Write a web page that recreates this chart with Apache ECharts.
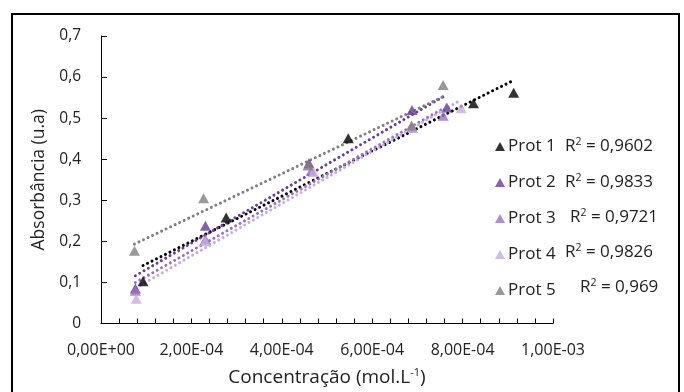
<!DOCTYPE html>
<html><head><meta charset="utf-8">
<script src="https://cdn.jsdelivr.net/npm/echarts@6/dist/echarts.min.js"></script>
<style>html,body{margin:0;padding:0;background:#fff}#c{width:684px;height:392px}</style>
</head><body><div id="c"></div>
<script>
// Data
var seriesNames = ['Prot 1', 'Prot 2', 'Prot 3', 'Prot 4', 'Prot 5'];
var r2Labels = ['0,9602', '0,9833', '0,9721', '0,9826', '0,969'];
var prot1X = [9.3e-5, 2.77e-4, 5.47e-4, 8.24e-4, 9.13e-4];
var prot1Y = [0.103, 0.258, 0.451, 0.536, 0.562];
var prot2X = [7.6e-5, 2.31e-4, 4.6e-4, 6.88e-4, 7.65e-4];
var prot2Y = [0.085, 0.238, 0.390, 0.520, 0.526];
var prot3X = [7.6e-5, 2.31e-4, 4.65e-4, 6.88e-4, 7.57e-4];
var prot3Y = [0.080, 0.205, 0.372, 0.478, 0.506];
var prot4X = [7.8e-5, 2.31e-4, 4.7e-4, 6.9e-4, 7.97e-4];
var prot4Y = [0.060, 0.200, 0.369, 0.476, 0.524];
var prot5X = [7.4e-5, 2.27e-4, 4.58e-4, 6.87e-4, 7.57e-4];
var prot5Y = [0.177, 0.305, 0.385, 0.482, 0.581];
var yTicks = [0, 0.1, 0.2, 0.3, 0.4, 0.5, 0.6, 0.7];

var xs = [prot1X, prot2X, prot3X, prot4X, prot5X];
var ys = [prot1Y, prot2Y, prot3Y, prot4Y, prot5Y];
var colors = ['#000000', '#6a3a9c', '#9b6fcb', '#c7aadf', '#808080'];

function fit(x, y) {
  var n = x.length, mx = 0, my = 0, sxy = 0, sxx = 0;
  for (var i = 0; i < n; i++) { mx += x[i]; my += y[i]; }
  mx /= n; my /= n;
  for (i = 0; i < n; i++) { sxy += (x[i]-mx)*(y[i]-my); sxx += (x[i]-mx)*(x[i]-mx); }
  var b = sxy / sxx, a = my - b*mx;
  var x0 = Math.min.apply(null, x), x1 = Math.max.apply(null, x);
  return [[x0, a + b*x0], [x1, a + b*x1]];
}
function sci(v) {
  if (Math.abs(v) < 1e-12) return '0,00E+00';
  var e = Math.floor(Math.log10(Math.abs(v)) + 1e-9);
  var m = v / Math.pow(10, e);
  var es = (e < 0 ? '-' : '+') + (Math.abs(e) < 10 ? '0' : '') + Math.abs(e);
  return m.toFixed(2).replace('.', ',') + 'E' + es;
}

var series = [];
for (var k = 0; k < 5; k++) {
  series.push({
    type: 'line', name: seriesNames[k] + ' trend', data: fit(xs[k], ys[k]),
    showSymbol: false, silent: true, z: 1,
    lineStyle: { color: colors[k], width: 3, type: [0.01, 5], cap: 'round' }
  });
}
for (k = 0; k < 5; k++) {
  series.push({
    type: 'scatter', name: seriesNames[k],
    data: xs[k].map(function (v, i) { return [v, ys[k][i]]; }),
    symbol: 'triangle', symbolSize: [11, 10], z: 3,
    itemStyle: { color: colors[k] }
  });
}

var font = 'Open Sans';
var graphics = [{
  type: 'rect', shape: { x: 12, y: 14, width: 667, height: 390 },
  style: { fill: null, stroke: '#000', lineWidth: 2 }, silent: true
}];
var r2X = [565, 565, 570, 565, 580];
var rowY = [145, 181, 216, 251, 286];
for (k = 0; k < 5; k++) {
  graphics.push({
    type: 'text', left: r2X[k], top: rowY[k] - 8,
    style: {
      text: 'R{s|2} = ' + r2Labels[k], fill: '#222', fontSize: 17, fontFamily: font,
      rich: { s: { fontSize: 10.5, fontFamily: font, fill: '#222', padding: [0, 0, 8, 0] } }
    }
  });
}

var chart = echarts.init(document.getElementById('c'));
chart.setOption({
  animation: false,
  backgroundColor: '#fff',
  grid: { left: 101, right: 131, top: 36, bottom: 68 },
  xAxis: {
    type: 'value', min: 0, max: 0.001, interval: 0.0002,
    name: 'Concentração (mol.L{s|-1})', nameLocation: 'middle', nameGap: 44,
    nameTextStyle: { color: '#222', fontSize: 19, fontFamily: font,
      rich: { s: { fontSize: 11, fontFamily: font, color: '#222', padding: [0, 0, 9, 0] } } },
    axisLine: { lineStyle: { color: '#000', width: 1 } },
    axisTick: { show: true, inside: true, length: 5, lineStyle: { color: '#000' } },
    minorTick: { show: true, splitNumber: 5, length: 5, lineStyle: { color: '#000' } },
    splitLine: { show: false },
    axisLabel: { color: '#222', fontSize: 16, fontFamily: font, margin: 19, formatter: sci }
  },
  yAxis: {
    type: 'value', min: yTicks[0], max: yTicks[yTicks.length-1], interval: 0.1,
    name: 'Absorbância (u.a)', nameLocation: 'middle', nameGap: 51, nameRotate: 90,
    nameTextStyle: { color: '#222', fontSize: 17.5, fontFamily: font },
    axisLine: { show: true, lineStyle: { color: '#000', width: 1 } },
    axisTick: { show: true, inside: true, length: 6, lineStyle: { color: '#000' } },
    splitLine: { show: false },
    axisLabel: { color: '#222', fontSize: 15.5, fontFamily: font, margin: 20,
      formatter: function (v) { return v === 0 ? '0' : v.toFixed(1).replace('.', ','); } }
  },
  legend: {
    orient: 'vertical', left: 490, top: 133, itemGap: 19,
    data: seriesNames.map(function (n) { return { name: n, icon: 'triangle' }; }),
    itemWidth: 10, itemHeight: 9,
    textStyle: { color: '#222', fontSize: 17, fontFamily: font, padding: [0, 0, 0, -2] }
  },
  graphic: graphics,
  series: series
});
</script></body></html>
